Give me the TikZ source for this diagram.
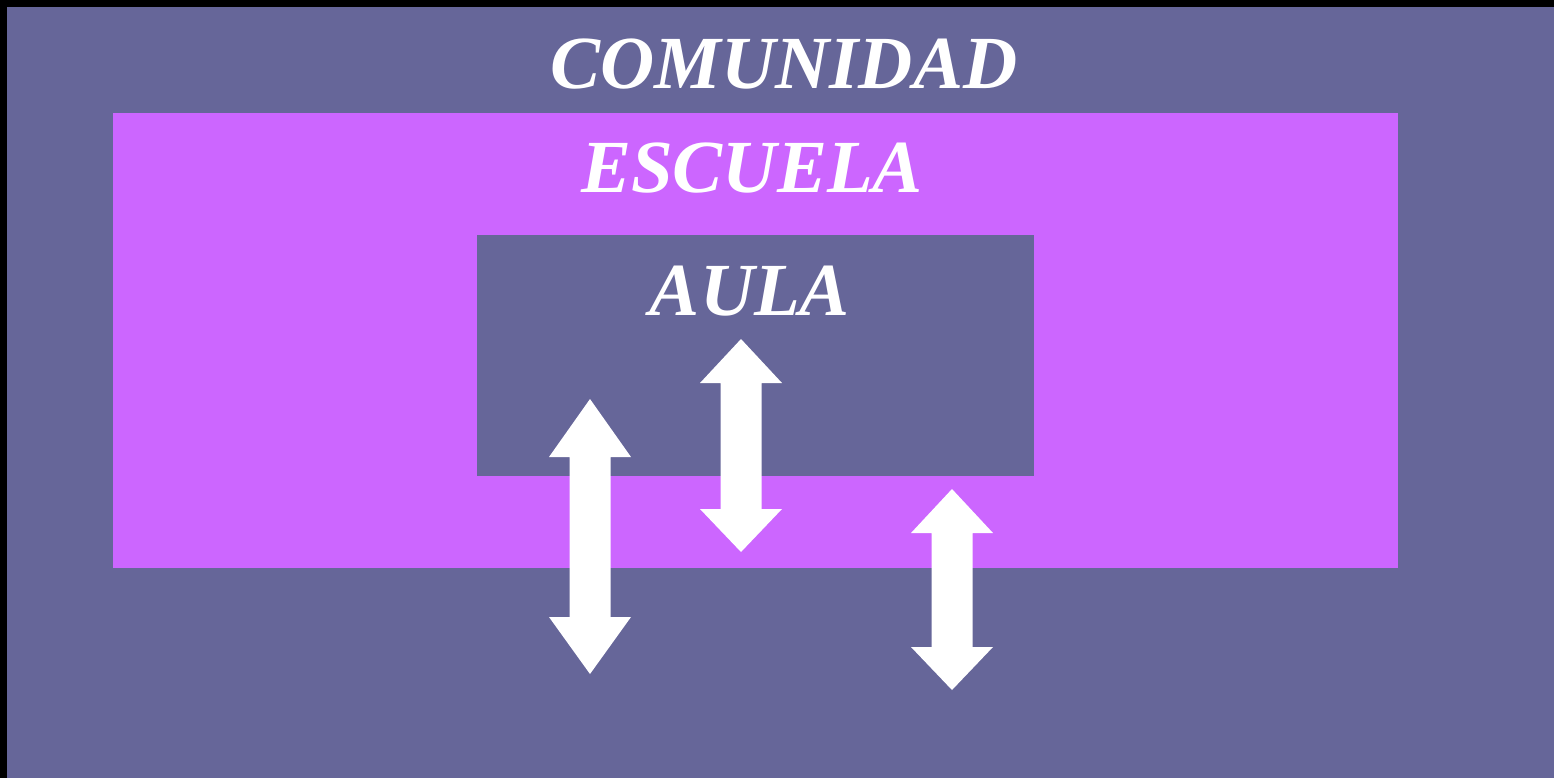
\documentclass[tikz,border=0pt]{standalone}
\usepackage{fontspec}
\setmainfont{Liberation Serif}
\usetikzlibrary{positioning}

\definecolor{fondo}{HTML}{666699}
\definecolor{rosa}{HTML}{CC66FF}

% double arrow: centre x, top tip, top head base, bottom head base, bottom tip
\newcommand{\dflecha}[5]{%
	\fill[flecha] (#1,#2) -- (#1+41,#3) -- (#1+20.5,#3) -- (#1+20.5,#4)
		-- (#1+41,#4) -- (#1,#5) -- (#1-41,#4) -- (#1-20.5,#4)
		-- (#1-20.5,#3) -- (#1-41,#3) -- cycle;%
}

\begin{document}
\begin{tikzpicture}[
	x=0.5pt, y=-0.5pt,
	titulo/.style={
		text=white,
		font=\fontsize{37.5}{37.5}\selectfont\bfseries\itshape,
		anchor=base,
		inner sep=0pt
	},
	flecha/.style={
		fill=white
	}
]
	\useasboundingbox (0,0) rectangle (1554,778);
	\fill[black] (0,0) rectangle (1554,778);
	\fill[fondo] (7,7) rectangle (1554,778);
	\fill[rosa] (113,113) rectangle (1398,568);
	\fill[fondo] (477,235) rectangle (1034,476);

	\node[titulo] (comunidad) at (784,88) {COMUNIDAD};
	\node[titulo] (escuela) at (752,192) {ESCUELA};
	\node[titulo] (aula) at (750,315) {AULA};

	\dflecha{590}{399}{457}{617}{674}
	\dflecha{741}{339}{383}{509}{552}
	\dflecha{952}{489}{533}{647}{690}
\end{tikzpicture}
\end{document}
